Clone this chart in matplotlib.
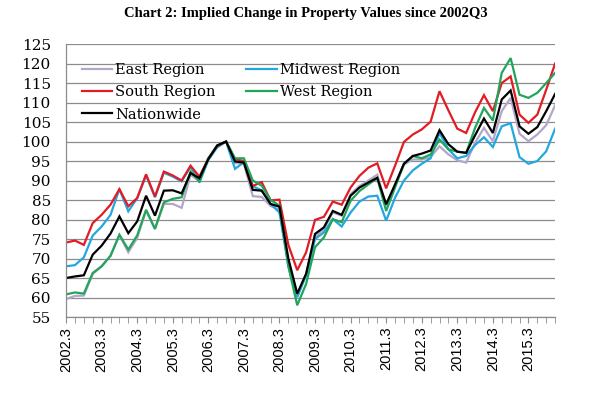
import matplotlib
matplotlib.use("Agg")
import matplotlib.pyplot as plt
from matplotlib.ticker import MultipleLocator, FixedLocator

quarters = [f"{y}.{q}" for y in range(2002, 2017) for q in range(1, 5)][2:58]

east = [59.6, 60.4, 60.5, 66.0, 68.0, 70.7, 76.0, 71.6, 75.3, 82.3, 77.6, 84.0, 84.0, 83.0, 91.5, 89.8, 95.3, 98.9, 100.0,
        94.5, 94.3, 86.0, 85.8, 83.5, 82.5, 69.0, 60.0, 66.0, 75.5, 77.5, 81.8, 81.0, 86.5, 88.6, 90.0, 91.5, 83.5, 88.6,
        94.1, 95.4, 95.4, 96.0, 98.8, 96.7, 95.2, 94.6, 99.7, 103.5, 100.1, 107.8, 111.2, 102.0, 100.1, 101.8, 104.2, 109.3]
midwest = [68.0, 68.3, 70.3, 75.9, 78.2, 81.2, 87.8, 82.1, 85.5, 91.3, 85.7, 92.0, 91.0, 89.8, 93.5, 89.5, 95.3, 98.5, 100.0,
           93.0, 94.7, 88.5, 87.5, 84.0, 81.8, 68.0, 60.2, 65.7, 75.0, 76.7, 80.1, 78.2, 81.8, 84.6, 85.9, 86.1, 79.7, 85.6,
           90.0, 92.6, 94.3, 95.7, 102.2, 98.0, 95.7, 96.3, 99.1, 101.1, 98.6, 103.9, 104.7, 96.0, 94.3, 95.0, 97.5, 103.3]
south = [74.1, 74.6, 73.5, 79.1, 81.2, 83.8, 87.8, 83.4, 85.5, 91.6, 85.9, 92.3, 91.3, 90.0, 93.8, 91.0, 95.7, 98.8, 100.0,
         95.5, 95.0, 88.6, 89.6, 84.9, 85.1, 73.5, 67.0, 71.6, 79.9, 80.7, 84.6, 83.8, 88.2, 91.2, 93.3, 94.4, 88.0, 93.8,
         99.9, 101.8, 103.1, 105.1, 112.9, 108.0, 103.3, 102.2, 107.5, 111.9, 107.8, 115.0, 116.7, 106.9, 104.8, 106.9, 113.3, 120.0]
west = [60.8, 61.3, 61.0, 66.3, 68.0, 70.7, 76.1, 72.3, 75.9, 82.5, 77.6, 84.4, 85.3, 85.7, 92.3, 89.8, 95.7, 99.0, 100.0,
        95.7, 95.7, 90.0, 88.7, 85.0, 83.6, 68.0, 58.0, 63.5, 72.9, 75.4, 80.1, 79.3, 84.8, 87.3, 89.0, 90.6, 82.2, 88.2,
        94.3, 96.3, 95.7, 96.7, 100.5, 98.0, 97.4, 97.1, 103.5, 108.6, 105.4, 117.6, 121.4, 112.0, 111.2, 112.5, 115.0, 117.6]
nationwide = [65.0, 65.4, 65.7, 71.0, 73.3, 76.4, 80.8, 76.5, 79.5, 86.1, 81.0, 87.4, 87.5, 86.7, 91.9, 90.6, 95.5, 99.0, 100.0,
              94.9, 94.6, 87.6, 87.4, 84.0, 83.3, 70.0, 61.0, 66.1, 76.3, 78.0, 82.2, 81.2, 86.1, 88.2, 89.5, 90.7, 83.9, 89.0,
              94.3, 96.3, 96.9, 97.7, 102.9, 99.3, 97.4, 97.1, 101.6, 105.9, 102.2, 110.8, 113.1, 103.9, 102.0, 103.7, 107.8, 112.2]

series = [
    ("East Region", east, "#B3A6C9"),
    ("Midwest Region", midwest, "#22A7E0"),
    ("South Region", south, "#E31B23"),
    ("West Region", west, "#20A55A"),
    ("Nationwide", nationwide, "#000000"),
]

fig = plt.figure(figsize=(6.06, 3.97), dpi=100)
ax = fig.add_axes([0.109, 0.2015, 0.807, 0.6875])

x = list(range(len(quarters)))
handles = {}
for name, vals, col in series:
    h, = ax.plot(x, vals, color=col, lw=1.6, solid_joinstyle="miter")
    handles[name] = h

ax.set_xlim(0, len(quarters) - 1)
ax.set_ylim(55, 125)
ax.yaxis.set_major_locator(MultipleLocator(5))
ax.grid(axis="y", color="#8c8c8c", lw=0.9)
ax.set_axisbelow(True)
for s in ["top", "right"]:
    ax.spines[s].set_visible(False)
for s in ["left", "bottom"]:
    ax.spines[s].set_color("#8c8c8c")
    ax.spines[s].set_linewidth(0.9)

label_idx = [i for i, q in enumerate(quarters) if q.endswith(".3")]
ax.xaxis.set_major_locator(FixedLocator(label_idx))
ax.xaxis.set_minor_locator(FixedLocator(x))
ax.set_xticklabels([quarters[i] for i in label_idx], rotation=90,
                   fontfamily="Liberation Sans", fontsize=10.5)
ax.tick_params(axis="x", which="both", length=4, color="#8c8c8c", pad=3)
ax.tick_params(axis="y", length=0, pad=11)
for t in ax.get_yticklabels():
    t.set_fontfamily("DejaVu Serif")
    t.set_fontsize(11)

order = ["East Region", "South Region", "Nationwide", "Midwest Region", "West Region"]
ax.legend([handles[n] for n in order], order, ncol=2, frameon=False,
          loc="upper left", bbox_to_anchor=(0.005, 0.977),
          prop={"family": "DejaVu Serif", "size": 10.5},
          handlelength=2.1, handletextpad=0.2, columnspacing=2.1, labelspacing=0.55)

fig.text(0.505, 0.965, "Chart 2: Implied Change in Property Values since 2002Q3",
         ha="center", va="center", fontfamily="Liberation Serif", fontweight="bold", fontsize=10.5)

fig.savefig("out.png", dpi=100)
